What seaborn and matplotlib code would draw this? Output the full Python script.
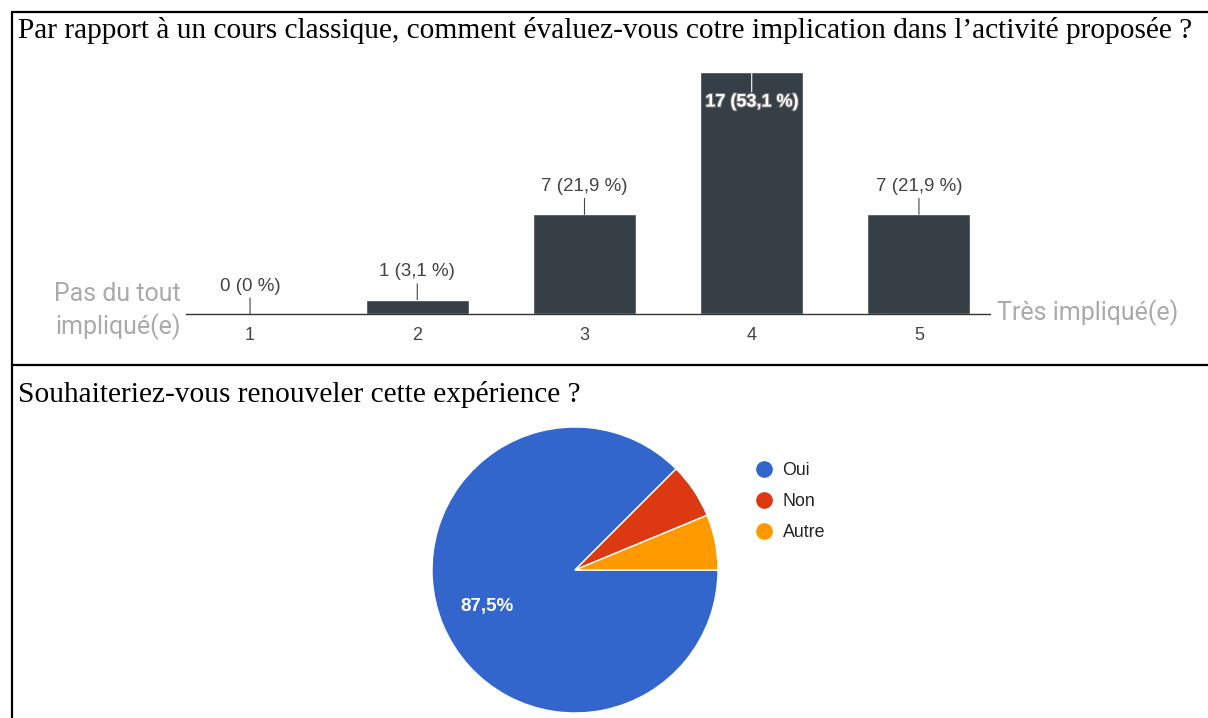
import matplotlib
matplotlib.use("Agg")
import matplotlib.pyplot as plt
import matplotlib.patheffects as pe
from matplotlib.lines import Line2D
import seaborn as sns
import pandas as pd

scale_labels = ["1", "2", "3", "4", "5"]
counts = [0, 1, 7, 17, 7]
pie_labels = ["Oui", "Non", "Autre"]
pie_values = [28, 2, 2]

title_bar = "Par rapport à un cours classique, comment évaluez-vous cotre implication dans l’activité proposée ?"
title_pie = "Souhaiteriez-vous renouveler cette expérience ?"
low_label = "Pas du tout\nimpliqué(e)"
high_label = "Très impliqué(e)"

bar_color = "#363f46"
pie_colors = ["#3366cc", "#dc3912", "#ff9900"]

W, H = 1208, 718

def fx(px):
    return px / W

def fy(py):
    return 1 - py / H

sns.set_theme(style="white")
plt.rcParams["font.family"] = ["Liberation Sans", "DejaVu Sans"]

fig = plt.figure(figsize=(W / 100, H / 100), dpi=100)
fig.patch.set_facecolor("white")

## Table borders...
for xs, ys in [((11.5, 11.5), (12, 718)), ((11.5, 1208), (12, 12)), ((11.5, 1208), (365, 365))]:
    fig.add_artist(Line2D([fx(x) for x in xs], [fy(y) for y in ys], color="black", lw=1.6))

fig.text(fx(18), fy(31), title_bar, family="Liberation Serif", fontsize=21.15,
         ha="left", va="center", color="black")
fig.text(fx(18), fy(395), title_pie, family="Liberation Serif", fontsize=21.15,
         ha="left", va="center", color="black")

## Bar chart...
df = pd.DataFrame({"note": scale_labels, "n": counts})
ax = fig.add_axes([fx(186), fy(314), (990 - 186) / W, (314 - 72) / H])
sns.barplot(data=df, x="note", y="n", color=bar_color, saturation=1, width=0.616, ax=ax)
ax.set_xlim(-0.383, 4.425)
ax.set_ylim(0, max(counts))
ax.set_xlabel("")
ax.set_ylabel("")
ax.set_yticks([])
for s in ["top", "right", "left"]:
    ax.spines[s].set_visible(False)
ax.spines["bottom"].set_color("#333333")
ax.spines["bottom"].set_linewidth(1.0)
ax.tick_params(axis="x", length=0, pad=9, labelsize=13, labelcolor="#444444")

total = sum(counts)
top = max(counts)
for i, c in enumerate(counts):
    pct = f"{c / total * 100:.1f}".rstrip("0").rstrip(".").replace(".", ",")
    label = f"{c} ({pct} %)"
    if c == top:
        ax.annotate("", xy=(i, c), xytext=(0, -20), textcoords="offset pixels",
                    arrowprops=dict(arrowstyle="-", color="white", lw=0.8, shrinkA=0, shrinkB=0))
        ax.annotate(label, xy=(i, c), xytext=(0, -30), textcoords="offset pixels",
                    ha="center", va="center", fontsize=13, color="white", fontweight="bold",
                    path_effects=[pe.withStroke(linewidth=1.5, foreground="#777777")])
    else:
        ax.annotate("", xy=(i, c), xytext=(0, 16), textcoords="offset pixels",
                    arrowprops=dict(arrowstyle="-", color="#444444", lw=0.8, shrinkA=0, shrinkB=0))
        ax.annotate(label, xy=(i, c), xytext=(0, 28), textcoords="offset pixels",
                    ha="center", va="center", fontsize=13.5, color="#444444")

fig.text(fx(181), fy(311), low_label, ha="right", va="center", fontsize=18,
         family="Roboto", color="#aaaaaa", linespacing=1.32)
fig.text(fx(997), fy(313), high_label, ha="left", va="center", fontsize=18,
         family="Roboto", color="#aaaaaa")

## Pie chart...
pax = fig.add_axes([fx(432), fy(713), 286 / W, 286 / H])
wedges, _, autotexts = pax.pie(
    pie_values, colors=pie_colors, startangle=0, counterclock=False,
    autopct=lambda p: f"{p:.1f}%".replace(".", ",") if p > 10 else "",
    pctdistance=0.667, wedgeprops=dict(edgecolor="white", linewidth=1),
    textprops=dict(color="white", fontsize=13.5, fontweight="bold"))
pax.set_xlim(-1, 1)
pax.set_ylim(-1, 1)
pax.set_aspect("equal")

handles = [Line2D([0], [0], marker="o", linestyle="", markersize=11,
                  markerfacecolor=c, markeredgecolor=c) for c in pie_colors]
fig.legend(handles, pie_labels, loc="upper left", bbox_to_anchor=(fx(755), fy(462)),
           frameon=False, fontsize=12.8, labelspacing=0.8, handletextpad=0.55,
           handlelength=1.0, borderaxespad=0, borderpad=0, labelcolor="#222222")

plt.savefig("out.png", dpi=100, facecolor="white")
plt.close()
